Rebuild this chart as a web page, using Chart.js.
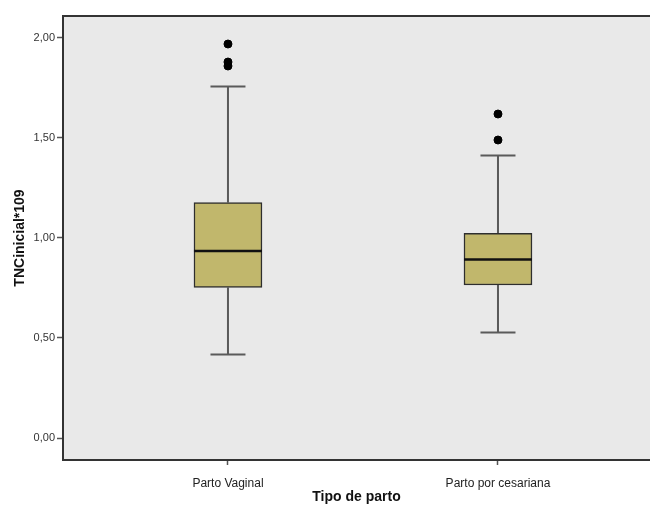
<!DOCTYPE html>
<html>
<head>
<meta charset="utf-8">
<script src="https://cdn.jsdelivr.net/npm/chart.js@4/dist/chart.umd.min.js"></script>
<style>
  html, body { margin: 0; padding: 0; background: #fff; overflow: hidden; }
  #wrap { width: 650px; height: 506px; }
</style>
</head>
<body>
<div id="wrap"><canvas id="chart" width="650" height="506"></canvas></div>
<script>
// box plot values
const categories = ["Parto Vaginal", "Parto por cesariana"];
const catPos = [1, 2];
const q1 = [0.753, 0.765];
const medians = [0.935, 0.893];
const q3 = [1.177, 1.023];
const whiskerLow = [0.418, 0.527];
const whiskerHigh = [1.757, 1.413];
const outliers = [[1.97, 1.88, 1.86], [1.62, 1.49]];
const yTicks = [0, 0.5, 1, 1.5, 2];

const boxData = catPos.map((x, i) => ({ x: x, y: [q1[i], q3[i]] }));
const outlierData = [];
outliers.forEach((list, i) => list.forEach(v => outlierData.push({ x: catPos[i], y: v })));

const plotBg = {
  id: "plotBg",
  beforeDraw(chart) {
    const { ctx, chartArea: a } = chart;
    ctx.save();
    ctx.fillStyle = "#e9e9e9";
    ctx.fillRect(a.left, a.top, a.right - a.left, a.bottom - a.top);
    ctx.strokeStyle = "#333";
    ctx.lineWidth = 2;
    ctx.beginPath();
    ctx.moveTo(a.left, a.top);
    ctx.lineTo(a.right, a.top);
    ctx.stroke();
    ctx.restore();
  }
};

// whiskers, caps and median lines
const boxExtras = {
  id: "boxExtras",
  beforeDatasetsDraw(chart) {
    const { ctx, scales: { x, y } } = chart;
    ctx.save();
    ctx.strokeStyle = "#5a5a5a";
    ctx.lineWidth = 2;
    catPos.forEach((c, i) => {
      const px = x.getPixelForValue(c);
      ctx.beginPath();
      ctx.moveTo(px, y.getPixelForValue(q3[i]));
      ctx.lineTo(px, y.getPixelForValue(whiskerHigh[i]));
      ctx.moveTo(px, y.getPixelForValue(q1[i]));
      ctx.lineTo(px, y.getPixelForValue(whiskerLow[i]));
      const capHi = y.getPixelForValue(whiskerHigh[i]);
      const capLo = y.getPixelForValue(whiskerLow[i]);
      ctx.moveTo(px - 17.5, capHi); ctx.lineTo(px + 17.5, capHi);
      ctx.moveTo(px - 17.5, capLo); ctx.lineTo(px + 17.5, capLo);
      ctx.stroke();
    });
    ctx.restore();
  },
  afterDatasetsDraw(chart) {
    const { ctx, scales: { x, y } } = chart;
    ctx.save();
    ctx.strokeStyle = "#111";
    ctx.lineWidth = 2.5;
    catPos.forEach((c, i) => {
      const px = x.getPixelForValue(c);
      const py = y.getPixelForValue(medians[i]);
      ctx.beginPath();
      ctx.moveTo(px - 34, py);
      ctx.lineTo(px + 34, py);
      ctx.stroke();
    });
    ctx.restore();
  }
};

new Chart(document.getElementById("chart"), {
  type: "bar",
  data: {
    datasets: [
      {
        type: "bar",
        data: boxData,
        backgroundColor: "#c1b76c",
        borderColor: "#2e2e2e",
        borderWidth: 1.5,
        borderSkipped: false,
        barThickness: 68,
        order: 2
      },
      {
        type: "scatter",
        data: outlierData,
        backgroundColor: "#000",
        borderColor: "#000",
        pointRadius: 4,
        order: 1
      }
    ]
  },
  options: {
    responsive: false,
    animation: false,
    events: [],
    layout: { autoPadding: false, padding: { left: 0, right: 0, top: 16, bottom: 0 } },
    plugins: { legend: { display: false }, tooltip: { enabled: false } },
    scales: {
      x: {
        type: "linear",
        min: 0.389,
        max: 2.563,
        offset: false,
        afterBuildTicks: s => { s.ticks = catPos.map(v => ({ value: v })); },
        afterFit: s => { s.height = 46; },
        ticks: {
          callback: (v, i) => categories[i],
          color: "#222",
          font: { family: "Liberation Sans", size: 12 },
          padding: 11,
          maxRotation: 0,
          autoSkip: false
        },
        grid: { drawOnChartArea: false, offset: false, tickLength: 5, color: "#555", tickWidth: 1.5 },
        border: { color: "#333", width: 2 },
        title: {
          display: true,
          text: "Tipo de parto",
          color: "#111",
          font: { family: "Liberation Sans", size: 14, weight: "bold" },
          padding: { top: 0, bottom: 0 }
        }
      },
      y: {
        min: -0.11,
        max: 2.11,
        afterBuildTicks: s => { s.ticks = yTicks.map(v => ({ value: v })); },
        afterFit: s => { s.width = 63; },
        ticks: {
          callback: v => v.toFixed(2).replace(".", ","),
          color: "#333",
          font: { family: "Liberation Sans", size: 11 },
          padding: 2
        },
        grid: { drawOnChartArea: false, tickLength: 6, color: "#555", tickWidth: 1.5 },
        border: { color: "#333", width: 2 },
        title: {
          display: true,
          text: "TNCinicial*109",
          color: "#111",
          font: { family: "Liberation Sans", size: 14, weight: "bold" },
          padding: { top: 12, bottom: 0 }
        }
      }
    }
  },
  plugins: [plotBg, boxExtras]
});
</script>
</body>
</html>
